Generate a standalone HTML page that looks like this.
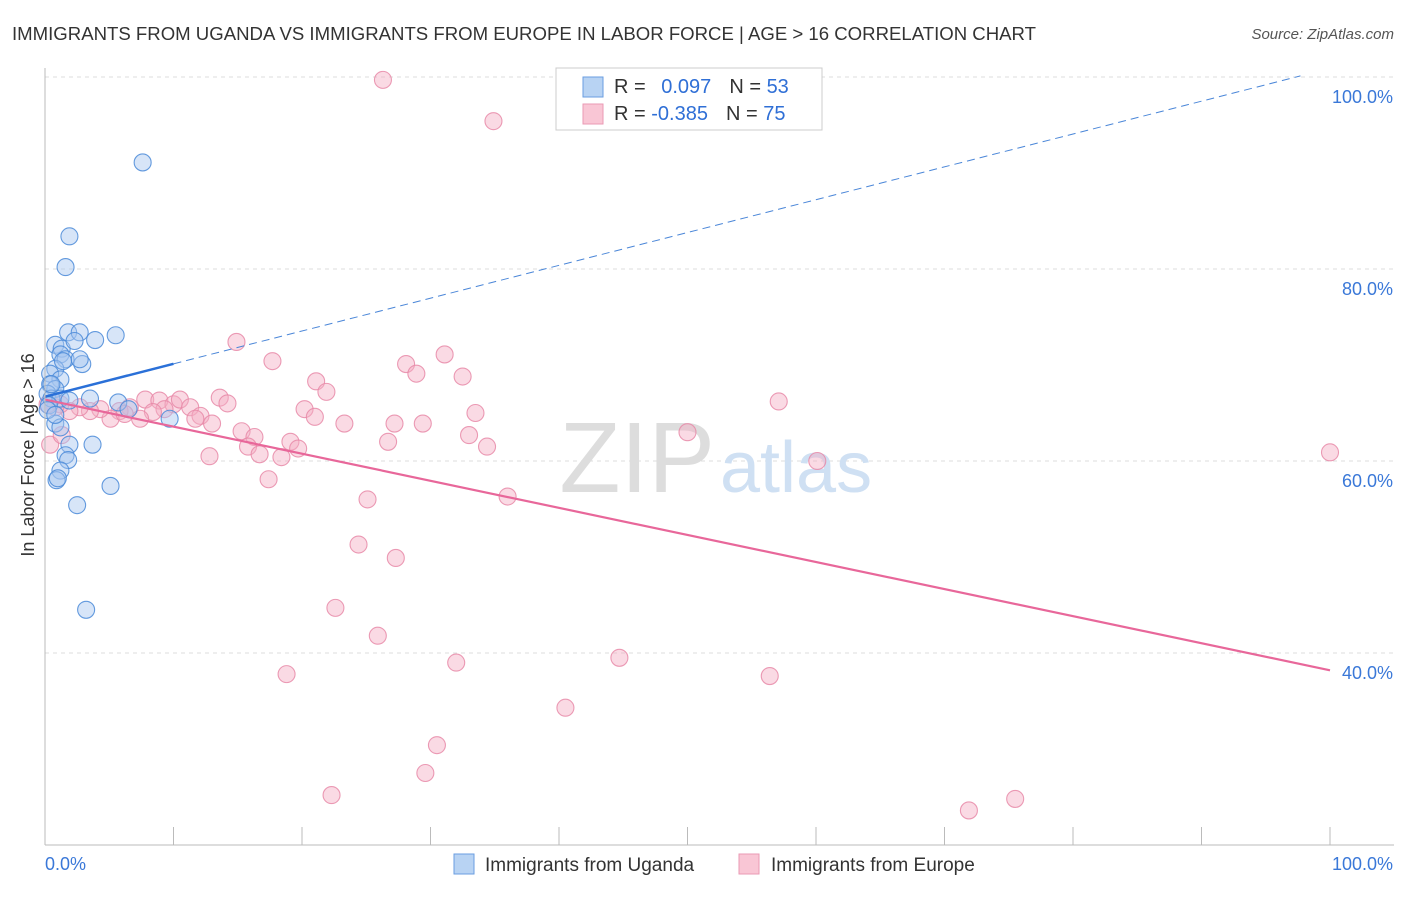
<!DOCTYPE html>
<html><head><meta charset="utf-8"><style>
body{margin:0;background:#fff;font-family:"Liberation Sans",sans-serif;}
svg text{font-family:"Liberation Sans",sans-serif;}
</style></head><body>
<svg id="chart" width="1406" height="892">
<text x="12" y="40" font-size="18.6" fill="#333" textLength="1024">IMMIGRANTS FROM UGANDA VS IMMIGRANTS FROM EUROPE IN LABOR FORCE | AGE &gt; 16 CORRELATION CHART</text>
<text x="1394" y="39" font-size="15" fill="#555" font-style="italic" text-anchor="end">Source: ZipAtlas.com</text>
<g id="grid"></g>
<g>
<text x="715" y="492" font-size="100" fill="#ddd" text-anchor="end" font-family="Liberation Serif">ZIP</text>
<text x="720" y="492" font-size="72" fill="#cfe0f3">atlas</text>
</g>
<g id="marks"></g>
<g id="axes"></g>
<g>
<rect x="556" y="68" width="266" height="62" fill="#fff" stroke="#ccc"/>
<rect x="583" y="77" width="20" height="20" fill="#b8d3f3" stroke="#6a9ee0"/>
<rect x="583" y="104" width="20" height="20" fill="#f9c6d5" stroke="#ea9ab4"/>
<text x="614" y="93" font-size="20" fill="#333">R = <tspan fill="#2f6fd6" dx="10">0.097</tspan><tspan dx="18" fill="#333">N = </tspan><tspan fill="#2f6fd6">53</tspan></text>
<text x="614" y="120" font-size="20" fill="#333">R = <tspan fill="#2f6fd6">-0.385</tspan><tspan dx="18" fill="#333">N = </tspan><tspan fill="#2f6fd6">75</tspan></text>
</g>
<g>
<rect x="454" y="854" width="20" height="20" fill="#b8d3f3" stroke="#6a9ee0"/>
<text x="485" y="871" font-size="19" fill="#333">Immigrants from Uganda</text>
<rect x="739" y="854" width="20" height="20" fill="#f9c6d5" stroke="#ea9ab4"/>
<text x="771" y="871" font-size="19" fill="#333">Immigrants from Europe</text>
</g>
<text transform="translate(34,455) rotate(-90)" font-size="18" fill="#333" text-anchor="middle">In Labor Force | Age &gt; 16</text>
</svg>
<script>
const yTicks=[40,60,80,100];
const xTickLabels=["0.0%","100.0%"];
const ugandaX=[7.6,1.9,1.6,0.8,1.8,2.7,1.3,2.3,3.9,5.5,1.2,1.6,2.9,0.8,0.4,1.2,0.4,0.8,0.2,0.5,1.2,1.9,3.5,5.7,6.5,9.7,0.8,1.2,1.9,3.7,1.6,1.8,1.2,0.9,1.0,2.5,5.1,3.2,0.3,0.2,0.8,2.7,1.4,0.5];
const ugandaY=[91.1,83.4,80.2,72.1,73.4,73.4,71.7,72.5,72.6,73.1,71.1,70.6,70.1,69.6,69.1,68.5,68.0,67.5,67.0,66.5,66.5,66.3,66.5,66.1,65.4,64.4,63.9,63.5,61.7,61.7,60.6,60.1,59.0,58.0,58.2,55.4,57.4,44.5,65.8,65.3,64.8,70.6,70.4,68.0];
const europeX=[26.3,34.9,14.9,17.7,28.1,31.1,28.9,21.1,32.5,21.9,20.2,23.3,33.5,21.0,27.2,29.4,33.0,34.4,26.7,19.1,19.7,25.1,36.0,24.4,27.3,22.6,25.9,32.0,18.8,40.5,30.5,29.6,22.3,44.7,56.4,57.1,50.0,60.1,100,71.9,75.5,7.8,8.9,10.0,10.5,11.3,12.1,13.0,13.6,14.2,15.3,16.3,15.8,16.7,18.4,17.4,12.8,9.3,8.4,6.6,5.8,5.1,4.3,3.5,2.7,1.9,1.2,0.8,0.2,7.4,6.2,11.7,0.4,1.3];
const europeY=[99.7,95.4,72.4,70.4,70.1,71.1,69.1,68.3,68.8,67.2,65.4,63.9,65.0,64.6,63.9,63.9,62.7,61.5,62.0,62.0,61.3,56.0,56.3,51.3,49.9,44.7,41.8,39.0,37.8,34.3,30.4,27.5,25.2,39.5,37.6,66.2,63.0,60.0,60.9,23.6,24.8,66.4,66.3,65.9,66.4,65.6,64.7,63.9,66.6,66.0,63.1,62.5,61.5,60.7,60.4,58.1,60.5,65.4,65.1,65.6,65.2,64.4,65.4,65.2,65.6,65.2,65.9,65.6,65.9,64.4,64.9,64.4,61.7,62.7];
const ugandaTrend=[66.7,100.9];
const europeTrend=[66.4,38.2];
const NS="http://www.w3.org/2000/svg";
const X0=45,X1=1330,YB=845;
function sx(v){return X0+(X1-X0)*v/100;}
function sy(v){return YB-(v-20)*9.6;}
function mk(t,a,p){const e=document.createElementNS(NS,t);for(const k in a)e.setAttribute(k,a[k]);p.appendChild(e);return e;}
const grid=document.getElementById('grid'),marks=document.getElementById('marks'),axes=document.getElementById('axes');
yTicks.forEach(t=>{
 const l=mk('line',{x1:X0,x2:1394,y1:sy(t),y2:sy(t),stroke:'#ddd','stroke-dasharray':'4,4'},grid);
 
 
 const tx=mk('text',{x:1393,y:sy(t)+26,'font-size':18,fill:'#3a78d8','text-anchor':'end'},axes);
 tx.textContent=t.toFixed(1)+'%';
 
 
});
const ax=mk('line',{x1:X0,x2:X0,y1:68,y2:YB,stroke:'#bbb'},axes);


const bx=mk('line',{x1:X0,x2:1394,y1:YB,y2:YB,stroke:'#bbb'},axes);


for(let i=1;i<=10;i++){const tk=mk('line',{x1:sx(i*10),x2:sx(i*10),y1:YB,y2:YB-18,stroke:'#bbb'},axes);
 
 }
[[0,'start',45],[100,'end',1393]].forEach((d,i)=>{const t=mk('text',{x:d[2],y:870,'font-size':18,fill:'#3a78d8','text-anchor':d[1]},axes);t.textContent=xTickLabels[i];
 
 });
function pts(xs,ys,fill,stroke,name){xs.forEach((x,i)=>{const c=mk('circle',{cx:sx(x),cy:sy(ys[i]),r:8.5,fill:fill,'fill-opacity':0.45,stroke:stroke,'stroke-width':1.1,'stroke-opacity':0.85},marks);
 
 });}
pts(europeX,europeY,'#f4adc3','#e88aa8','europe-point');
pts(ugandaX,ugandaY,'#a6c6ef','#4a8ad8','uganda-point');
const ue=(x)=>ugandaTrend[0]+(ugandaTrend[1]-ugandaTrend[0])*x/100;
const l1=mk('line',{x1:sx(0),y1:sy(ue(0)),x2:sx(10),y2:sy(ue(10)),stroke:'#2a70d8','stroke-width':2.5},marks);


const l2=mk('line',{x1:sx(10),y1:sy(ue(10)),x2:sx(97.7),y2:sy(ue(97.7)),stroke:'#4a86d8','stroke-width':1,'stroke-dasharray':'8,5'},marks);


const l3=mk('line',{x1:sx(0),y1:sy(europeTrend[0]),x2:sx(100),y2:sy(europeTrend[1]),stroke:'#e8679a','stroke-width':2.2},marks);


</script>
</body></html>
